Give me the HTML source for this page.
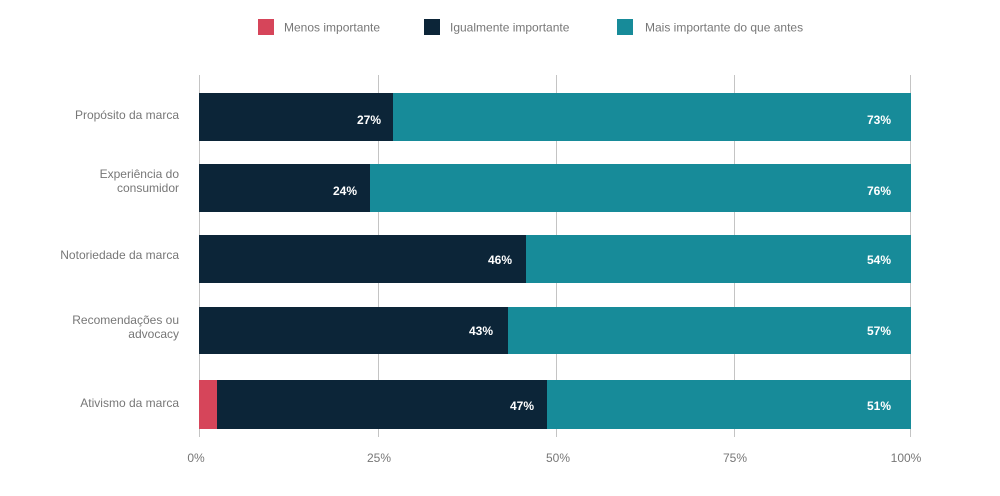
<!DOCTYPE html>
<html><head><meta charset="utf-8"><style>
html,body{margin:0;padding:0;background:#fff;}
svg{display:block;}
text{font-family:"Liberation Sans",sans-serif;}
</style></head><body>
<svg width="1000" height="496" viewBox="0 0 1000 496" xmlns="http://www.w3.org/2000/svg">
<!-- legend -->
<rect x="258" y="19" width="16" height="16" fill="#d6455a"/>
<text x="284" y="31.5" font-size="12" fill="#777">Menos importante</text>
<rect x="424" y="19" width="16" height="16" fill="#0c2538"/>
<text x="450" y="31.5" font-size="12" fill="#777">Igualmente importante</text>
<rect x="617" y="19" width="16" height="16" fill="#178b99"/>
<text x="645" y="31.5" font-size="12" fill="#777">Mais importante do que antes</text>

<!-- gridlines -->
<g stroke="#c4c4c4" stroke-width="1">
<line x1="199.5" y1="75" x2="199.5" y2="437"/>
<line x1="378.5" y1="75" x2="378.5" y2="437"/>
<line x1="556.5" y1="75" x2="556.5" y2="437"/>
<line x1="734.5" y1="75" x2="734.5" y2="437"/>
<line x1="910.5" y1="75" x2="910.5" y2="437"/>
</g>

<!-- bars -->
<rect x="199" y="93" width="194" height="48" fill="#0c2538"/>
<rect x="393" y="93" width="518" height="48" fill="#178b99"/>
<rect x="199" y="164" width="171" height="48" fill="#0c2538"/>
<rect x="370" y="164" width="541" height="48" fill="#178b99"/>
<rect x="199" y="235" width="327" height="48" fill="#0c2538"/>
<rect x="526" y="235" width="385" height="48" fill="#178b99"/>
<rect x="199" y="307" width="309" height="47" fill="#0c2538"/>
<rect x="508" y="307" width="403" height="47" fill="#178b99"/>
<rect x="199" y="380" width="18" height="49" fill="#d6455a"/>
<rect x="217" y="380" width="330" height="49" fill="#0c2538"/>
<rect x="547" y="380" width="364" height="49" fill="#178b99"/>

<!-- value labels -->
<g font-size="12" font-weight="bold" fill="#fff" text-anchor="end">
<text x="381" y="124">27%</text>
<text x="891" y="124">73%</text>
<text x="357" y="195">24%</text>
<text x="891" y="195">76%</text>
<text x="512" y="264">46%</text>
<text x="891" y="264">54%</text>
<text x="493" y="335">43%</text>
<text x="891" y="335">57%</text>
<text x="534" y="410">47%</text>
<text x="891" y="410">51%</text>
</g>

<!-- category labels -->
<g font-size="12" fill="#777" text-anchor="end">
<text x="179" y="119">Propósito da marca</text>
<text x="179" y="178">Experiência do</text>
<text x="179" y="192">consumidor</text>
<text x="179" y="259">Notoriedade da marca</text>
<text x="179" y="324">Recomendações ou</text>
<text x="179" y="338">advocacy</text>
<text x="179" y="407">Ativismo da marca</text>
</g>

<!-- tick labels -->
<g font-size="12" fill="#777" text-anchor="middle">
<text x="196" y="462">0%</text>
<text x="379" y="462">25%</text>
<text x="558" y="462">50%</text>
<text x="735" y="462">75%</text>
<text x="906" y="462">100%</text>
</g>
</svg>
</body></html>
